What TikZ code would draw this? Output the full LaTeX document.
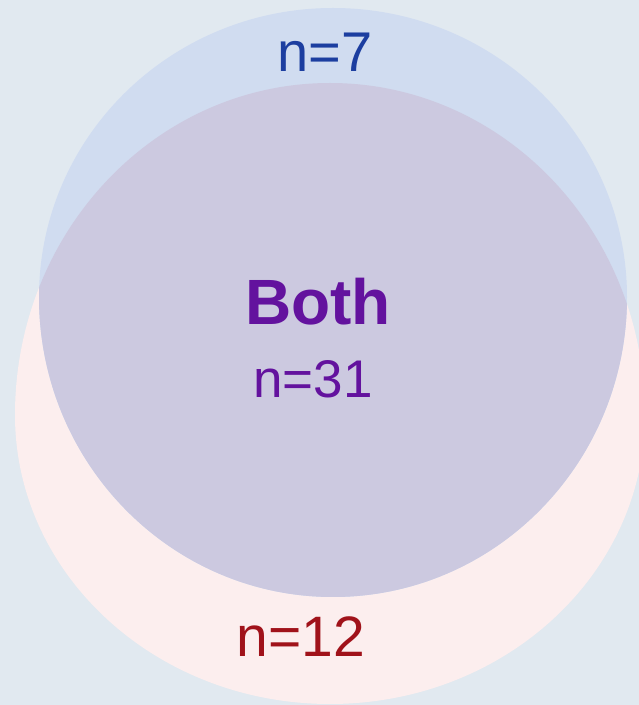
\documentclass[tikz,border=0pt]{standalone}
\usepackage{fontspec}
\setmainfont{Liberation Sans}
\definecolor{bg}{HTML}{E1E9F0}
\definecolor{bluefill}{HTML}{D0DCF0}
\definecolor{pinkfill}{HTML}{FCEEEE}
\definecolor{bothfill}{HTML}{CCC9E0}
\definecolor{bluetxt}{HTML}{1C3EA0}
\definecolor{redtxt}{HTML}{A0121A}
\definecolor{purtxt}{HTML}{63129E}
\newcommand\mybluepath{(39,408) arc[start angle=180,end angle=0,x radius=294,y radius=289] arc[start angle=0,end angle=-180,x radius=294,y radius=300] -- cycle}
\newcommand\mypinkpath{(15,290) arc[start angle=180,end angle=0,x radius=315,y radius=332] arc[start angle=0,end angle=-180,x radius=315,y radius=289] -- cycle}
\begin{document}
\begin{tikzpicture}[x=1pt,y=1pt,
  lbl/.style={anchor=base,inner sep=0pt,font=\fontsize{56}{60}\selectfont}]
\fill[bg] (0,0) rectangle (639,705);
\useasboundingbox (0,0) rectangle (639,705);
\fill[pinkfill] \mypinkpath;
\fill[bluefill] \mybluepath;
\begin{scope}
\clip \mybluepath;
\fill[bothfill] \mypinkpath;
\end{scope}
\node[lbl,text=bluetxt] (a) at (325,633) {n=7};
\node[lbl,text=purtxt,font=\fontsize{64}{70}\selectfont\bfseries] (b) at (318,380) {Both};
\node[lbl,text=purtxt,font=\fontsize{53}{60}\selectfont] (c) at (313,307) {n=31};
\node[lbl,text=redtxt,font=\fontsize{57}{60}\selectfont] (d) at (301,48) {n=12};
\end{tikzpicture}
\end{document}
